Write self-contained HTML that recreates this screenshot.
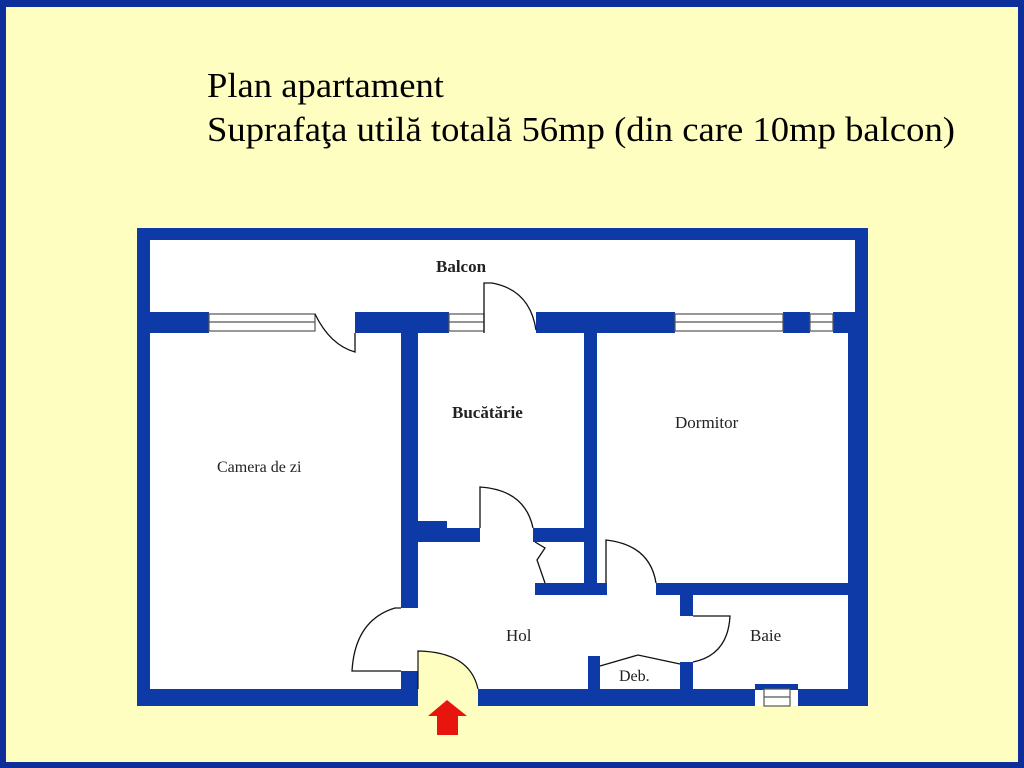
<!DOCTYPE html>
<html><head><meta charset="utf-8"><style>
html,body{margin:0;padding:0;background:#fefec0;}
svg{display:block}
</style></head><body>
<svg width="1024" height="768" viewBox="0 0 1024 768" xmlns="http://www.w3.org/2000/svg">
<rect x="0" y="0" width="1024" height="768" fill="#0e2f9a"/>
<rect x="6" y="7" width="1012" height="755" fill="#fefec0"/>
<g font-family="Liberation Serif, serif" fill="#000">
<text x="207" y="97" font-size="35" textLength="237" lengthAdjust="spacingAndGlyphs">Plan apartament</text>
<text x="207" y="141" font-size="35" textLength="748" lengthAdjust="spacingAndGlyphs">Suprafaţa utilă totală 56mp (din care 10mp balcon)</text>
</g>
<!-- interior white -->
<rect x="137" y="228" width="731" height="478" fill="#fff"/>
<rect x="418" y="689" width="60" height="17" fill="#fefec0"/>
<g fill="#0e3aa8">
<rect x="137" y="228" width="731" height="12"/>
<rect x="137" y="228" width="13" height="100"/>
<rect x="855" y="228" width="13" height="100"/>
<rect x="137" y="312" width="72" height="21"/>
<rect x="355" y="312" width="94" height="21"/>
<rect x="536" y="312" width="139" height="21"/>
<rect x="783" y="312" width="27" height="21"/>
<rect x="833" y="312" width="35" height="21"/>
<rect x="137" y="312" width="13" height="394"/>
<rect x="848" y="312" width="20" height="394"/>
<rect x="137" y="689" width="281" height="17"/>
<rect x="478" y="689" width="277" height="17"/>
<rect x="798" y="689" width="70" height="17"/>
<rect x="401" y="333" width="17" height="275"/>
<rect x="401" y="671" width="17" height="25"/>
<rect x="418" y="521" width="29" height="21"/>
<rect x="418" y="528" width="62" height="14"/>
<rect x="533" y="528" width="52" height="14"/>
<rect x="584" y="333" width="13" height="262"/>
<rect x="535" y="583" width="72" height="12"/>
<rect x="656" y="583" width="192" height="12"/>
<rect x="680" y="595" width="13" height="21"/>
<rect x="680" y="662" width="13" height="30"/>
<rect x="588" y="656" width="12" height="36"/>
</g>
<g fill="#fff" stroke="#555" stroke-width="1.2">
<rect x="209" y="314" width="106" height="17"/><line x1="209" y1="322" x2="315" y2="322"/>
<rect x="449" y="314" width="35" height="17"/><line x1="449" y1="322" x2="484" y2="322"/>
<rect x="675" y="314" width="108" height="17"/><line x1="675" y1="322" x2="783" y2="322"/>
<rect x="810" y="314" width="23" height="17"/><line x1="810" y1="322" x2="833" y2="322"/>
<rect x="755" y="684" width="43" height="6" fill="#0e3aa8" stroke="none"/>
<rect x="764" y="689" width="26" height="17"/><line x1="764" y1="697" x2="790" y2="697"/>
</g>
<g fill="none" stroke="#111" stroke-width="1.3">
<path d="M315 314 Q330 345 355 352 L355 333"/>
<path d="M484 333 L484 283 L492 283 Q530 290 536 330"/>
<path d="M480 528 L480 487 Q525 490 533 528"/>
<path d="M535 542 L545 548 L537 560 L545 583"/>
<path d="M606 583 L606 540 Q650 545 656 583"/>
<path d="M693 616 L730 616 Q728 655 693 662"/>
<path d="M600 666 L638 655 L680 664"/>
<path d="M401 608 L395 608 Q355 620 352 671 L401 671"/>
</g>
<path d="M418 689 L418 651 Q470 652 478 689" fill="#fefec0" stroke="#111" stroke-width="1.2"/>
<polygon points="447,700 467,716 458,716 458,735 437,735 437,716 428,716" fill="#e8140e"/>
<g font-family="Liberation Serif, serif" fill="#222">
<text x="436" y="272" font-size="17" font-weight="bold">Balcon</text>
<text x="452" y="418" font-size="17" font-weight="bold">Bucătărie</text>
<text x="217" y="472" font-size="16">Camera de zi</text>
<text x="675" y="428" font-size="17">Dormitor</text>
<text x="506" y="641" font-size="17">Hol</text>
<text x="750" y="641" font-size="17">Baie</text>
<text x="619" y="681" font-size="16">Deb.</text>
</g>
</svg>
</body></html>
